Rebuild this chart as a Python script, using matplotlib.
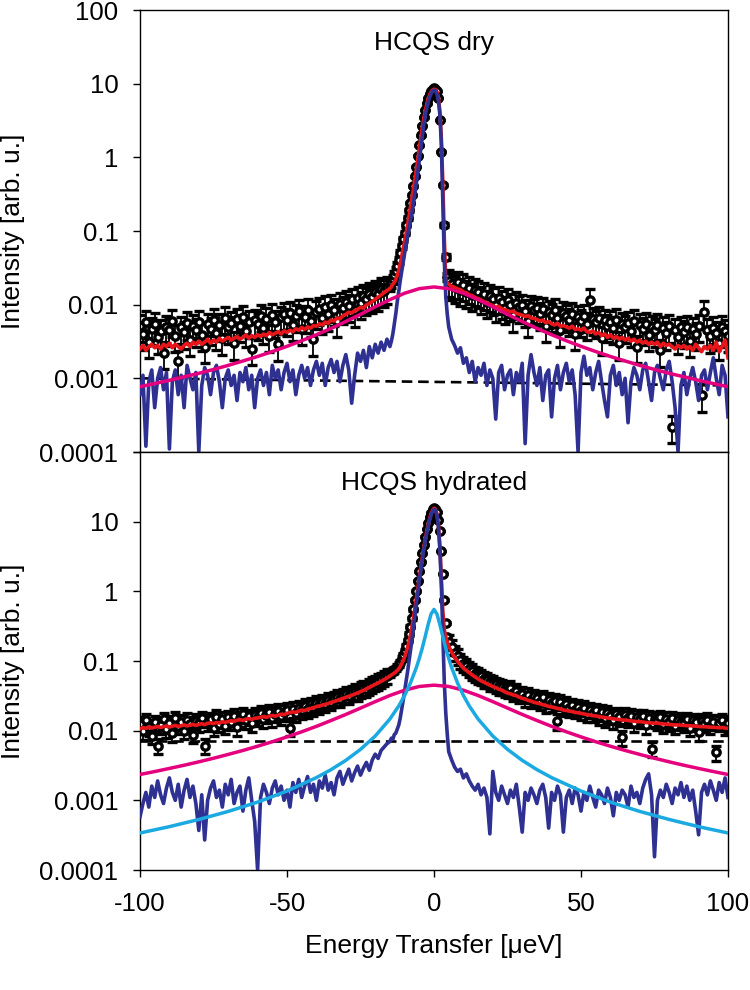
import numpy as np
import matplotlib
matplotlib.use("Agg")
import matplotlib.pyplot as plt
from matplotlib.ticker import FixedLocator, NullLocator
from matplotlib.transforms import blended_transform_factory

plt.rcParams['font.family'] = ['Liberation Sans', 'DejaVu Sans']

# ---------------- energy sampling grids (ueV) ----------------
E_left = np.arange(-100, -15, 1.0)     # -100 .. -16
E_core = np.arange(-15, 5, 0.5)        # -15 .. 4.5
E_right = np.arange(5, 101, 1.0)       # 5 .. 100
E_all = np.concatenate([E_left, E_core, E_right])

E_mag = np.arange(-100, 101, 5)
E_cyan = [-100, -90, -80, -70, -60, -50, -40, -35, -30, -25, -20, -15, -12, -10, -8, -6, -5, -4, -3, -2, -1,
          0, 1, 2, 3, 4, 5, 6, 8, 10, 12, 15, 20, 25, 30, 35, 40, 50, 60, 70, 80, 90, 100]
E_bg = [-100, 100]

# ================= HCQS dry =================
dry_data_left = [0.0052, 0.0040, 0.0058, 0.0031, 0.0047, 0.0055, 0.0036, 0.0044, 0.0022, 0.0050,
                 0.0046, 0.0060, 0.0038, 0.0017, 0.0049, 0.0042, 0.0056, 0.0033, 0.0051, 0.0045,
                 0.0058, 0.0039, 0.0027, 0.0054, 0.0047, 0.0062, 0.0041, 0.0053, 0.0035, 0.0066,
                 0.0049, 0.0057, 0.0030, 0.0063, 0.0052, 0.0068, 0.0044, 0.0059, 0.0025, 0.0061,
                 0.0055, 0.0070, 0.0048, 0.0064, 0.0038, 0.0073, 0.0059, 0.0029, 0.0067, 0.0075,
                 0.0062, 0.0078, 0.0053, 0.0071, 0.0082, 0.0047, 0.0069, 0.0085, 0.0060, 0.0034,
                 0.0079, 0.0088, 0.0066, 0.0093, 0.0074, 0.0098, 0.0085, 0.0060, 0.0102, 0.0091,
                 0.0110, 0.0096, 0.0118, 0.0084, 0.0125, 0.0107, 0.0133, 0.0119, 0.0140, 0.0128,
                 0.0150, 0.0138, 0.0162, 0.0155, 0.0172]
dry_data_core = [0.018, 0.020, 0.022, 0.025, 0.029, 0.034, 0.040, 0.050, 0.062, 0.077,
                 0.095, 0.12, 0.15, 0.19, 0.24, 0.31, 0.41, 0.55, 0.75, 1.05,
                 1.45, 2.0, 2.7, 3.5, 4.4, 5.4, 6.4, 7.3, 8.0, 8.5,
                 8.7, 8.5, 7.9, 6.4, 3.2, 1.2, 0.42, 0.12, 0.045, 0.024]
dry_data_right = [0.021, 0.019, 0.0175, 0.020, 0.016, 0.0185, 0.015, 0.017, 0.0135, 0.0160,
                  0.0148, 0.0125, 0.0140, 0.0110, 0.0132, 0.0120, 0.0098, 0.0125, 0.0108, 0.0090,
                  0.0115, 0.0100, 0.0072, 0.0105, 0.0093, 0.0098, 0.0082, 0.0060, 0.0095, 0.0085,
                  0.0090, 0.0075, 0.0088, 0.0052, 0.0080, 0.0072, 0.0084, 0.0066, 0.0045, 0.0078,
                  0.0070, 0.0062, 0.0075, 0.0040, 0.0068, 0.0060, 0.0071, 0.0055, 0.0115, 0.0064,
                  0.0058, 0.0066, 0.0035, 0.0061, 0.0052, 0.0059, 0.0048, 0.0062, 0.0030, 0.0055,
                  0.0050, 0.0057, 0.0044, 0.0060, 0.0027, 0.0053, 0.0047, 0.0055, 0.0039, 0.0050,
                  0.0045, 0.0053, 0.0024, 0.0048, 0.0041, 0.0051, 0.00022, 0.0046, 0.0036, 0.0049,
                  0.0043, 0.0050, 0.0032, 0.0047, 0.0040, 0.0052, 0.00059, 0.0079, 0.0045, 0.0037,
                  0.0048, 0.0041, 0.0030, 0.0050, 0.0044, 0.0038]
dry_relerr_tail = 0.40
dry_relerr_core = [0.16, 0.15, 0.14, 0.13, 0.12, 0.11, 0.10, 0.09, 0.08, 0.072,
                   0.065, 0.056, 0.05, 0.045, 0.04, 0.035, 0.03, 0.026, 0.022, 0.019,
                   0.016, 0.014, 0.012, 0.011, 0.01, 0.009, 0.0085, 0.008, 0.0075, 0.007,
                   0.007, 0.007, 0.0075, 0.008, 0.011, 0.018, 0.03, 0.055, 0.09, 0.13]

dry_res_left = [0.0006, 0.0011, 0.00012, 0.0009, 0.0013, 0.0004, 0.0010, 0.0014, 0.0007, 0.0012,
                0.00011, 0.0009, 0.0013, 0.0006, 0.0011, 0.0004, 0.0015, 0.0010, 0.0007, 0.0012,
                0.0001, 0.0008, 0.0014, 0.0011, 0.0006, 0.0012, 0.0015, 0.0009, 0.0004, 0.0010,
                0.0013, 0.0008, 0.0011, 0.0005, 0.0012, 0.0009, 0.0014, 0.0007, 0.0011, 0.0004,
                0.0010, 0.0013, 0.0008, 0.0012, 0.0006, 0.0015, 0.0010, 0.0013, 0.0007, 0.0012,
                0.0016, 0.0009, 0.0013, 0.0006, 0.0011, 0.0015, 0.0010, 0.0014, 0.0008, 0.0013,
                0.0017, 0.0011, 0.0016, 0.0008, 0.0014, 0.0018, 0.0012, 0.0017, 0.0009, 0.0015,
                0.0021, 0.0013, 0.00046, 0.0011, 0.0022, 0.0017, 0.0024, 0.0014, 0.0027, 0.0019,
                0.0029, 0.0022, 0.0031, 0.0024, 0.0034]
dry_res_core = [0.0027, 0.0032, 0.0040, 0.0055, 0.0075, 0.011, 0.015, 0.021, 0.028, 0.038,
                0.050, 0.066, 0.085, 0.11, 0.14, 0.18, 0.24, 0.33, 0.45, 0.64,
                0.90, 1.3, 1.9, 2.7, 3.6, 4.6, 5.6, 6.5, 7.3, 7.9,
                8.2, 8.0, 7.2, 5.8, 3.8, 1.5, 0.25, 0.04, 0.013, 0.0075]
dry_res_right = [0.005, 0.0034, 0.0028, 0.0022, 0.0026, 0.0016, 0.0019, 0.0012, 0.0017, 0.0009,
                 0.0014, 0.0011, 0.0016, 0.0008, 0.0013, 0.0010, 0.00028, 0.0012, 0.0015, 0.0007,
                 0.0011, 0.0013, 0.0006, 0.0012, 0.0009, 0.0016, 0.00013, 0.0011, 0.0021, 0.0012,
                 0.0008, 0.0014, 0.0005, 0.0011, 0.0013, 0.0003, 0.0010, 0.0015, 0.0007, 0.0012,
                 0.0016, 0.0009, 0.0013, 0.0006, 0.0001, 0.0012, 0.0020, 0.0011, 0.0014, 0.0007,
                 0.0012, 0.0017, 0.0009, 0.0005, 0.0003, 0.0011, 0.0015, 0.0008, 0.0012, 0.0006,
                 0.0010, 0.00025, 0.0009, 0.0014, 0.0011, 0.0007, 0.0013, 0.0016, 0.0009, 0.0005,
                 0.0012, 0.0015, 0.0010, 0.0007, 0.0013, 0.0017, 0.0009, 0.0004, 0.0001, 0.0008,
                 0.0012, 0.0006, 0.0010, 0.0014, 0.0009, 0.0005, 0.0011, 0.0013, 0.0007, 0.0012,
                 0.0019, 0.0010, 0.0006, 0.0015, 0.0011, 0.0003]

dry_fit_left = [0.0025, 0.0028, 0.0024, 0.0027, 0.0029, 0.0026, 0.0028, 0.0025, 0.0029, 0.0027,
                0.0030, 0.0026, 0.0029, 0.0027, 0.0025, 0.0028, 0.0030, 0.0027, 0.0031, 0.0029,
                0.0032, 0.0029, 0.0031, 0.0034, 0.0030, 0.0033, 0.0031, 0.0035, 0.0032, 0.0034,
                0.0036, 0.0033, 0.0035, 0.0037, 0.0034, 0.0036, 0.0039, 0.0035, 0.0038, 0.0036,
                0.0039, 0.0037, 0.0040, 0.0038, 0.0042, 0.0039, 0.0041, 0.0043, 0.0040, 0.0044,
                0.0042, 0.0045, 0.0043, 0.0047, 0.0045, 0.0049, 0.0046, 0.0050, 0.0048, 0.0052,
                0.0051, 0.0055, 0.0053, 0.0058, 0.0056, 0.0062, 0.0060, 0.0066, 0.0064, 0.0071,
                0.0074, 0.0079, 0.0077, 0.0083, 0.0086, 0.0092, 0.0090, 0.0099, 0.0104, 0.0110,
                0.0118, 0.0127, 0.0135, 0.0146, 0.0155]
dry_fit_core = [0.0165, 0.0175, 0.019, 0.020, 0.022, 0.025, 0.029, 0.036, 0.045, 0.057,
                0.072, 0.092, 0.12, 0.16, 0.21, 0.28, 0.37, 0.50, 0.68, 0.95,
                1.3, 1.8, 2.5, 3.3, 4.2, 5.2, 6.2, 7.0, 7.7, 8.2,
                8.4, 8.3, 7.8, 6.5, 4.2, 1.8, 0.45, 0.08, 0.022, 0.0195]
dry_fit_right = [0.0190, 0.0178, 0.0172, 0.0163, 0.0160, 0.0148, 0.0145, 0.0136, 0.0133, 0.0125,
                 0.0121, 0.0116, 0.0110, 0.0106, 0.0101, 0.0097, 0.0092, 0.0095, 0.0088, 0.0086,
                 0.0083, 0.0080, 0.0082, 0.0076, 0.0074, 0.0072, 0.0069, 0.0071, 0.0066, 0.0065,
                 0.0063, 0.0060, 0.0062, 0.0057, 0.0059, 0.0055, 0.0053, 0.0056, 0.0051, 0.0052,
                 0.0050, 0.0048, 0.0051, 0.0046, 0.0047, 0.0045, 0.0048, 0.0043, 0.0042, 0.0044,
                 0.0040, 0.0042, 0.0038, 0.0040, 0.0036, 0.0039, 0.0035, 0.0037, 0.0034, 0.0036,
                 0.0033, 0.0035, 0.0032, 0.0034, 0.0031, 0.0033, 0.0030, 0.0032, 0.0029, 0.0031,
                 0.0029, 0.0031, 0.0027, 0.0030, 0.0028, 0.0029, 0.0027, 0.0025, 0.0028, 0.0026,
                 0.0028, 0.0025, 0.0027, 0.0024, 0.0029, 0.0026, 0.0023, 0.0027, 0.0025, 0.0028,
                 0.0024, 0.0031, 0.0023, 0.0027, 0.0033, 0.0019]

dry_qens = [0.00077, 0.00085, 0.00094, 0.00105, 0.00117, 0.00132, 0.00150, 0.00172, 0.00198, 0.00231,
            0.00272, 0.00324, 0.00391, 0.00477, 0.00591, 0.00740, 0.00934, 0.0117, 0.0143, 0.0165,
            0.0174,
            0.0165, 0.0143, 0.0117, 0.00934, 0.00740, 0.00591, 0.00477, 0.00391, 0.00324, 0.00272,
            0.00231, 0.00198, 0.00172, 0.00150, 0.00132, 0.00117, 0.00105, 0.00094, 0.00085, 0.00077]
dry_bg = [0.00100, 0.00080]

# ================= HCQS hydrated =================
hyd_data_left = [0.0125, 0.0098, 0.0140, 0.0112, 0.0085, 0.0132, 0.0061, 0.0120, 0.0145, 0.0105,
                 0.0130, 0.0092, 0.0150, 0.0118, 0.0135, 0.0100, 0.0142, 0.0125, 0.0088, 0.0138,
                 0.0128, 0.0150, 0.0061, 0.0133, 0.0145, 0.0110, 0.0158, 0.0126, 0.0148, 0.0118,
                 0.0155, 0.0135, 0.0165, 0.0112, 0.0150, 0.0172, 0.0140, 0.0160, 0.0128, 0.0168,
                 0.0158, 0.0178, 0.0145, 0.0170, 0.0188, 0.0150, 0.0175, 0.0192, 0.0160, 0.0185,
                 0.0198, 0.0110, 0.0205, 0.0180, 0.0212, 0.0195, 0.0225, 0.0205, 0.0238, 0.0218,
                 0.0248, 0.0230, 0.0262, 0.0245, 0.0275, 0.0260, 0.0290, 0.0305, 0.0288, 0.0320,
                 0.0335, 0.0318, 0.0355, 0.0372, 0.0360, 0.0395, 0.0415, 0.0400, 0.0440, 0.0465,
                 0.0490, 0.0515, 0.0545, 0.0580, 0.0615]
hyd_data_core = [0.066, 0.069, 0.072, 0.075, 0.079, 0.083, 0.089, 0.097, 0.108, 0.122,
                 0.140, 0.165, 0.198, 0.245, 0.31, 0.41, 0.55, 0.75, 1.02, 1.42,
                 1.95, 2.65, 3.5, 4.7, 6.1, 7.8, 9.6, 11.6, 13.5, 15.0,
                 15.8, 15.4, 13.8, 10.5, 7.3, 3.8, 1.8, 0.75, 0.35, 0.22]
hyd_data_right = [0.19, 0.16, 0.132, 0.118, 0.102, 0.092, 0.086, 0.078, 0.072, 0.066,
                  0.063, 0.060, 0.055, 0.054, 0.050, 0.049, 0.046, 0.044, 0.043, 0.040,
                  0.039, 0.041, 0.035, 0.037, 0.033, 0.034, 0.029, 0.033, 0.028, 0.031,
                  0.029, 0.026, 0.030, 0.024, 0.028, 0.025, 0.027, 0.0138, 0.026, 0.022,
                  0.024, 0.021, 0.023, 0.020, 0.022, 0.019, 0.0215, 0.0175, 0.020, 0.018,
                  0.0195, 0.016, 0.0185, 0.0150, 0.0178, 0.0165, 0.0140, 0.0172, 0.0158, 0.0080,
                  0.0168, 0.0150, 0.0162, 0.0128, 0.0158, 0.0145, 0.0160, 0.0120, 0.0152, 0.0055,
                  0.0148, 0.0138, 0.0155, 0.0125, 0.0147, 0.0132, 0.0150, 0.0118, 0.0142, 0.0135,
                  0.0128, 0.0145, 0.0110, 0.0140, 0.0132, 0.0095, 0.0138, 0.0126, 0.0143, 0.0118,
                  0.0135, 0.0049, 0.0130, 0.0140, 0.0115, 0.0128]
hyd_relerr_tail = 0.25
hyd_relerr_core = [0.10, 0.098, 0.095, 0.093, 0.09, 0.088, 0.085, 0.08, 0.076, 0.072,
                   0.067, 0.062, 0.057, 0.052, 0.046, 0.04, 0.035, 0.03, 0.026, 0.022,
                   0.019, 0.016, 0.014, 0.012, 0.011, 0.01, 0.009, 0.0085, 0.008, 0.0075,
                   0.007, 0.0072, 0.0075, 0.0085, 0.01, 0.014, 0.02, 0.03, 0.045, 0.058]

hyd_res_left = [0.00058, 0.0009, 0.0013, 0.0008, 0.0016, 0.0011, 0.0019, 0.0012, 0.0009, 0.0015,
                0.0021, 0.0013, 0.0010, 0.0017, 0.0008, 0.0014, 0.0020, 0.0011, 0.0016, 0.0009,
                0.00037, 0.0012, 0.00027, 0.0010, 0.0015, 0.0019, 0.0011, 0.0014, 0.0008, 0.0017,
                0.0012, 0.0020, 0.0009, 0.0013, 0.0016, 0.0007, 0.0014, 0.0021, 0.0010, 0.0005,
                0.0001, 0.0011, 0.0017, 0.0013, 0.0009, 0.0015, 0.0019, 0.0012, 0.0016, 0.0010,
                0.0014, 0.0008, 0.0018, 0.0013, 0.0020, 0.0011, 0.0016, 0.0022, 0.0013, 0.0017,
                0.0010, 0.0019, 0.0015, 0.0023, 0.0014, 0.0018, 0.0012, 0.0021, 0.0026, 0.0017,
                0.0022, 0.0028, 0.0019, 0.0025, 0.0031, 0.0023, 0.0029, 0.0035, 0.0027, 0.0038,
                0.0046, 0.0040, 0.0052, 0.0058, 0.0065]
hyd_res_core = [0.0070, 0.0078, 0.0075, 0.0088, 0.0092, 0.0105, 0.012, 0.015, 0.020, 0.027,
                0.037, 0.051, 0.070, 0.10, 0.14, 0.20, 0.30, 0.45, 0.65, 0.95,
                1.4, 2.0, 2.8, 3.9, 5.2, 6.8, 8.5, 10.5, 12.5, 14.0,
                15.0, 14.5, 12.5, 8.5, 4.0, 1.2, 0.25, 0.05, 0.018, 0.009]
hyd_res_right = [0.0050, 0.0038, 0.0030, 0.0026, 0.0028, 0.0021, 0.0024, 0.0019, 0.0016, 0.0014,
                 0.0017, 0.0012, 0.0015, 0.0011, 0.00033, 0.0026, 0.0013, 0.0010, 0.0016, 0.0012,
                 0.0009, 0.0014, 0.0011, 0.0017, 0.0008, 0.00035, 0.0013, 0.0010, 0.0015, 0.0012,
                 0.0009, 0.0014, 0.0017, 0.0011, 0.0004, 0.0013, 0.0010, 0.0016, 0.0012, 0.00035,
                 0.0011, 0.0014, 0.0009, 0.0015, 0.0012, 0.0007, 0.0013, 0.0010, 0.0016, 0.0011,
                 0.0008, 0.0014, 0.0012, 0.0009, 0.0015, 0.0011, 0.0006, 0.0013, 0.0010, 0.0014,
                 0.0012, 0.0008, 0.0016, 0.0011, 0.0013, 0.0009, 0.0015, 0.0020, 0.0024, 0.0012,
                 0.000155, 0.0010, 0.0014, 0.0011, 0.0017, 0.0013, 0.0009, 0.0015, 0.0012, 0.0018,
                 0.0011, 0.0016, 0.0010, 0.0014, 0.0007, 0.00032, 0.0013, 0.0017, 0.0012, 0.0019,
                 0.0014, 0.0010, 0.0018, 0.0013, 0.0021, 0.0011]

hyd_fit_left = [0.0106, 0.0111, 0.0108, 0.0113, 0.0109, 0.0112, 0.0115, 0.0111, 0.0114, 0.0117,
                0.0113, 0.0116, 0.0119, 0.0115, 0.0118, 0.0121, 0.0117, 0.0120, 0.0123, 0.0119,
                0.0123, 0.0126, 0.0122, 0.0127, 0.0130, 0.0126, 0.0131, 0.0129, 0.0134, 0.0132,
                0.0135, 0.0139, 0.0136, 0.0141, 0.0144, 0.0140, 0.0146, 0.0149, 0.0145, 0.0151,
                0.0152, 0.0156, 0.0159, 0.0155, 0.0162, 0.0165, 0.0161, 0.0168, 0.0172, 0.0170,
                0.0178, 0.0182, 0.0186, 0.0183, 0.0191, 0.0197, 0.0194, 0.0203, 0.0208, 0.0213,
                0.0222, 0.0226, 0.0233, 0.0239, 0.0245, 0.0255, 0.0262, 0.0271, 0.0280, 0.0291,
                0.0301, 0.0311, 0.0322, 0.0335, 0.0348, 0.0363, 0.0379, 0.0398, 0.0418, 0.0438,
                0.046, 0.0485, 0.051, 0.054, 0.057]
hyd_fit_core = [0.061, 0.063, 0.065, 0.067, 0.070, 0.073, 0.077, 0.083, 0.091, 0.101,
                0.114, 0.132, 0.155, 0.19, 0.235, 0.31, 0.41, 0.57, 0.78, 1.1,
                1.56, 2.2, 3.0, 4.2, 5.5, 7.2, 8.9, 11.0, 13.0, 14.6,
                15.6, 15.0, 13.0, 9.0, 4.4, 1.5, 0.52, 0.28, 0.22, 0.19]
hyd_fit_right = [0.164, 0.134, 0.113, 0.099, 0.088, 0.079, 0.073, 0.068, 0.063, 0.059,
                 0.0555, 0.052, 0.0495, 0.047, 0.045, 0.043, 0.0415, 0.0394, 0.0383, 0.0362,
                 0.0347, 0.0338, 0.0325, 0.0318, 0.0302, 0.0291, 0.0285, 0.0272, 0.0266, 0.0255,
                 0.0250, 0.0244, 0.0236, 0.0231, 0.0223, 0.0219, 0.0215, 0.0208, 0.0205, 0.0198,
                 0.0195, 0.0191, 0.0188, 0.0183, 0.0181, 0.0177, 0.0174, 0.0170, 0.0168, 0.0164,
                 0.0163, 0.0160, 0.0157, 0.0155, 0.0152, 0.0151, 0.0148, 0.0146, 0.0145, 0.0142,
                 0.0142, 0.0140, 0.0138, 0.0137, 0.0135, 0.0135, 0.0133, 0.0131, 0.0130, 0.0129,
                 0.0128, 0.0129, 0.0126, 0.0125, 0.0124, 0.0123, 0.0122, 0.0121, 0.0121, 0.0120,
                 0.0119, 0.0118, 0.0118, 0.0117, 0.0116, 0.0115, 0.0114, 0.0114, 0.0113, 0.0112,
                 0.0112, 0.0111, 0.0110, 0.0111, 0.0109, 0.0108]

hyd_qens_broad = [0.00235, 0.00259, 0.00287, 0.00319, 0.00357, 0.00402, 0.00456, 0.00520, 0.00598, 0.00694,
                  0.00814, 0.00964, 0.01154, 0.0140, 0.0171, 0.0211, 0.0261, 0.0320, 0.0381, 0.0431,
                  0.0450,
                  0.0431, 0.0381, 0.0320, 0.0261, 0.0211, 0.0171, 0.0140, 0.01154, 0.00964, 0.00814,
                  0.00694, 0.00598, 0.00520, 0.00456, 0.00402, 0.00357, 0.00319, 0.00287, 0.00259, 0.00235]
hyd_qens_narrow = [0.00034, 0.000419, 0.000531, 0.000693, 0.000943, 0.00136, 0.00212, 0.00276, 0.00375, 0.00539,
                   0.00837, 0.0147, 0.0226, 0.032, 0.0484, 0.0806, 0.109, 0.153, 0.224, 0.333, 0.472,
                   0.55,
                   0.472, 0.333, 0.224, 0.153, 0.109, 0.0806, 0.0484, 0.032, 0.0226, 0.0147,
                   0.00837, 0.00539, 0.00375, 0.00276, 0.00212, 0.00136, 0.000943, 0.000693, 0.000531,
                   0.000419, 0.00034]
hyd_bg = [0.0070, 0.0070]

# ---------------- styles ----------------
C_RES = '#2E3092'
C_FIT = '#E8161B'
C_MAG = '#E5007D'
C_CYAN = '#1BA9E1'

ytick_vals = [1e-4, 1e-3, 1e-2, 1e-1, 1, 10, 100]
ytick_labels = ['0.0001', '0.001', '0.01', '0.1', '1', '10', '100']
xtick_vals = [-100, -50, 0, 50, 100]
xtick_labels = ['-100', '-50', '0', '50', '100']

fig = plt.figure(figsize=(7.5, 9.9), dpi=100)
ax_top = fig.add_axes([0.18667, 0.54343, 0.784, 0.44646])
ax_bot = fig.add_axes([0.18667, 0.12121, 0.784, 0.42222])


def draw_panel(ax, data, relerr_tail, relerr_core, res, fit, qens_list, bg, title):
    data_left, data_core, data_right = data
    y = np.array(list(data_left) + list(data_core) + list(data_right))
    rel = np.array([relerr_tail] * len(data_left) + list(relerr_core) + [relerr_tail] * len(data_right))
    yerr = y * rel
    ax.errorbar(E_all, y, yerr=yerr, fmt='o', ms=5.3, mfc='white', mec='black', mew=2.4,
                ecolor='black', elinewidth=1.3, capsize=3.8, capthick=1.3, zorder=1)
    ax.plot(E_bg, bg, color='black', lw=1.9, dashes=(4, 2.2), zorder=2)
    ax.plot(E_all, list(fit[0]) + list(fit[1]) + list(fit[2]), color=C_FIT, lw=2.6, zorder=3)
    ax.plot(E_all, list(res[0]) + list(res[1]) + list(res[2]), color=C_RES, lw=2.6, zorder=4)
    for ex, vals, col, z in qens_list:
        ax.plot(ex, vals, color=col, lw=2.5, zorder=z)
    ax.set_yscale('log')
    ax.set_xlim(-100, 100)
    ax.set_ylim(1e-4, 100)
    ax.yaxis.set_major_locator(FixedLocator(ytick_vals))
    ax.yaxis.set_minor_locator(NullLocator())
    ax.xaxis.set_minor_locator(NullLocator())
    ax.set_xticks(xtick_vals)
    ax.set_xticklabels(xtick_labels)
    ax.tick_params(axis='both', direction='out', length=5, width=1.0, labelsize=18.5, pad=10.5,
                   right=False, top=False)
    for s in ax.spines.values():
        s.set_linewidth(1.0)
    ax.set_ylabel('Intensity [arb. u.]', fontsize=19)
    ax.yaxis.set_label_coords(-0.196, 0.5)
    tr = blended_transform_factory(ax.transData, ax.transAxes)
    ax.text(0, 0.925, title, transform=tr, ha='center', va='center', fontsize=19)


draw_panel(ax_top, (dry_data_left, dry_data_core, dry_data_right), dry_relerr_tail, dry_relerr_core,
           (dry_res_left, dry_res_core, dry_res_right), (dry_fit_left, dry_fit_core, dry_fit_right),
           [(E_mag, dry_qens, C_MAG, 5)], dry_bg, 'HCQS dry')
ax_top.set_yticklabels(ytick_labels)
ax_top.tick_params(axis='x', bottom=False, labelbottom=False)

draw_panel(ax_bot, (hyd_data_left, hyd_data_core, hyd_data_right), hyd_relerr_tail, hyd_relerr_core,
           (hyd_res_left, hyd_res_core, hyd_res_right), (hyd_fit_left, hyd_fit_core, hyd_fit_right),
           [(E_mag, hyd_qens_broad, C_MAG, 5), (E_cyan, hyd_qens_narrow, C_CYAN, 6)], hyd_bg,
           'HCQS hydrated')
ax_bot.set_yticklabels(ytick_labels[:-1] + [''])
ax_bot.set_xlabel('Energy Transfer [\u03bceV]', fontsize=19)
ax_bot.xaxis.set_label_coords(0.5, -0.152)

fig.savefig('out.png', dpi=100)
